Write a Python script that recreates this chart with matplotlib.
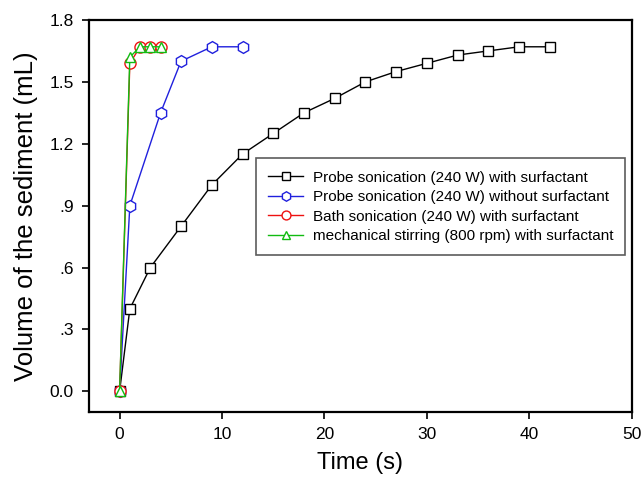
import matplotlib
matplotlib.use("Agg")
import matplotlib.pyplot as plt
from matplotlib.ticker import FuncFormatter

plt.rcParams["font.family"] = ["Liberation Sans", "DejaVu Sans"]

# ---------------------------------------------------------------------------
# Data

probe_surf_t = [0, 1, 3, 6, 9, 12, 15, 18, 21, 24, 27, 30, 33, 36, 39, 42]
probe_surf_v = [0.0, 0.40, 0.60, 0.80, 1.00, 1.15, 1.25, 1.35, 1.42, 1.50,
                1.55, 1.59, 1.63, 1.65, 1.67, 1.67]

probe_nosurf_t = [0, 1, 4, 6, 9, 12]
probe_nosurf_v = [0.0, 0.90, 1.35, 1.60, 1.67, 1.67]

bath_t = [0, 1, 2, 3, 4]
bath_v = [0.0, 1.59, 1.67, 1.67, 1.67]

stir_t = [0, 1, 2, 3, 4]
stir_v = [0.0, 1.62, 1.67, 1.67, 1.67]

labels = [
    "Probe sonication (240 W) with surfactant",
    "Probe sonication (240 W) without surfactant",
    "Bath sonication (240 W) with surfactant",
    "mechanical stirring (800 rpm) with surfactant",
]

yticks = [0.0, 0.3, 0.6, 0.9, 1.2, 1.5, 1.8]
xticks = [0, 10, 20, 30, 40, 50]

# ---------------------------------------------------------------------------
# Plot

fig = plt.figure(figsize=(6.44, 4.87), dpi=100)
ax = fig.add_axes([0.138, 0.154, 0.843, 0.805])

series = [
    (probe_surf_t, probe_surf_v, "black", "s", 7),
    (probe_nosurf_t, probe_nosurf_v, "#2020dd", "h", 8.5),
    (bath_t, bath_v, "#ee1111", "o", 8),
    (stir_t, stir_v, "#11bb11", "^", 7.5),
]
for (t, v, c, m, ms), lab in zip(series, labels):
    ax.plot(t, v, color=c, marker=m, markersize=ms, markerfacecolor="white",
            markeredgecolor=c, markeredgewidth=1.0, linewidth=1.0, label=lab)


def ytick_fmt(v, pos):
    s = f"{v:.1f}"
    if 0 < v < 1:
        s = s[1:]
    return s


ax.set_xlim(-3, 50)
ax.set_ylim(-0.1, 1.8)
ax.set_xticks(xticks)
ax.set_yticks(yticks)
ax.yaxis.set_major_formatter(FuncFormatter(ytick_fmt))
ax.tick_params(direction="out", length=5, width=1.2, labelsize=12.5,
               top=False, right=False, pad=6)
for s in ax.spines.values():
    s.set_linewidth(1.6)

ax.set_xlabel("Time (s)", fontsize=17, labelpad=7)
ax.set_ylabel("Volume of the sediment (mL)", fontsize=18.5, labelpad=8)

leg = ax.legend(loc="upper left", bbox_to_anchor=(0.308, 0.647), borderaxespad=0,
                fontsize=11, frameon=True, fancybox=False, handlelength=2.3,
                handletextpad=0.6, labelspacing=0.36, borderpad=0.8,
                markerscale=0.8)
leg.get_frame().set_edgecolor("#333333")
leg.get_frame().set_linewidth(1.2)

fig.savefig("out.png", dpi=100)
